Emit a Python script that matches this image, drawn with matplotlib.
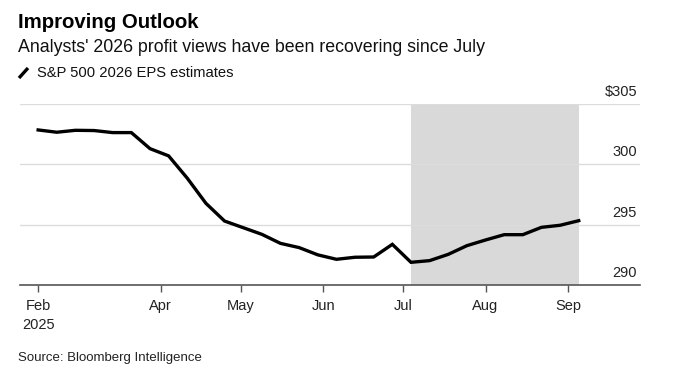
import numpy as np
import matplotlib.pyplot as plt
from matplotlib.lines import Line2D
from matplotlib.transforms import blended_transform_factory, offset_copy

plt.rcParams['font.family'] = ['Liberation Sans', 'DejaVu Sans']

# weekly S&P 500 2026 EPS estimates
dates = np.arange(np.datetime64('2025-02-14'), np.datetime64('2025-09-06'), np.timedelta64(7, 'D'))
eps = [302.85, 302.66, 302.82, 302.80, 302.63, 302.63, 301.30, 300.70,
       298.85, 296.77, 295.30, 294.75, 294.20, 293.45, 293.10, 292.50,
       292.13, 292.30, 292.32, 293.37, 291.88, 292.02, 292.54, 293.26,
       293.73, 294.17, 294.17, 294.78, 294.95, 295.33]

shade_start = np.datetime64('2025-07-04')
shade_end = np.datetime64('2025-09-05')

tick_dates = [np.datetime64(d) for d in ['2025-02-14', '2025-04-01', '2025-05-01', '2025-06-01',
                                         '2025-07-01', '2025-08-01', '2025-09-01']]
tick_labels = ['Feb\n2025', 'Apr', 'May', 'Jun', 'Jul', 'Aug', 'Sep']
y_ticks = [290, 295, 300, 305]
y_labels = ['290', '295', '300', '$305']

W, H = 676, 375
fig = plt.figure(figsize=(W / 100, H / 100), dpi=100)
ax = fig.add_axes([19.5 / W, 1 - 285 / H, (640 - 19.5) / W, (285 - 104) / H])

ax.axvspan(shade_start, shade_end, color='#d9d9d9', lw=0, zorder=0)
ax.plot(dates, eps, color='black', lw=2.4, solid_joinstyle='miter', zorder=3)

ax.set_ylim(290, 305)
ax.set_xlim(np.datetime64('2025-02-07'), np.datetime64('2025-09-28'))
for v in y_ticks[1:]:
    ax.axhline(v, color='#dcdcdc', lw=1, zorder=1)

# y labels sit above the gridlines on the right
trans = offset_copy(blended_transform_factory(ax.transAxes, ax.transData), fig=fig, x=-3, y=5, units='dots')
for v, lab in zip(y_ticks, y_labels):
    ax.text(1.0, v, lab, transform=trans, ha='right', va='bottom', fontsize=10.5, color='#222222')

ax.set_yticks([])
ax.set_xticks(tick_dates)
ax.set_xticklabels(tick_labels, fontsize=10.5, color='#222222', linespacing=1.5)
ax.tick_params(axis='x', length=5, width=1, color='#555555', pad=5)

for s in ['top', 'right', 'left']:
    ax.spines[s].set_visible(False)
ax.spines['bottom'].set_color('#555555')
ax.spines['bottom'].set_linewidth(1.2)

fig.text(18 / W, 1 - 22 / H, 'Improving Outlook', fontsize=14.7, fontweight='bold', va='center', color='black')
fig.text(18 / W, 1 - 48 / H, "Analysts' 2026 profit views have been recovering since July",
         fontsize=12.8, va='center', color='#111111')
fig.add_artist(Line2D([19 / W, 28 / W], [1 - 78 / H, 1 - 68 / H], color='black', lw=2.4,
                      transform=fig.transFigure, solid_capstyle='butt'))
fig.text(37 / W, 1 - 73 / H, 'S&P 500 2026 EPS estimates', fontsize=10.6, va='center', color='#111111')
fig.text(18 / W, 1 - 358 / H, 'Source: Bloomberg Intelligence', fontsize=9.5, va='center', color='#222222')

fig.savefig('out.png', dpi=100)
